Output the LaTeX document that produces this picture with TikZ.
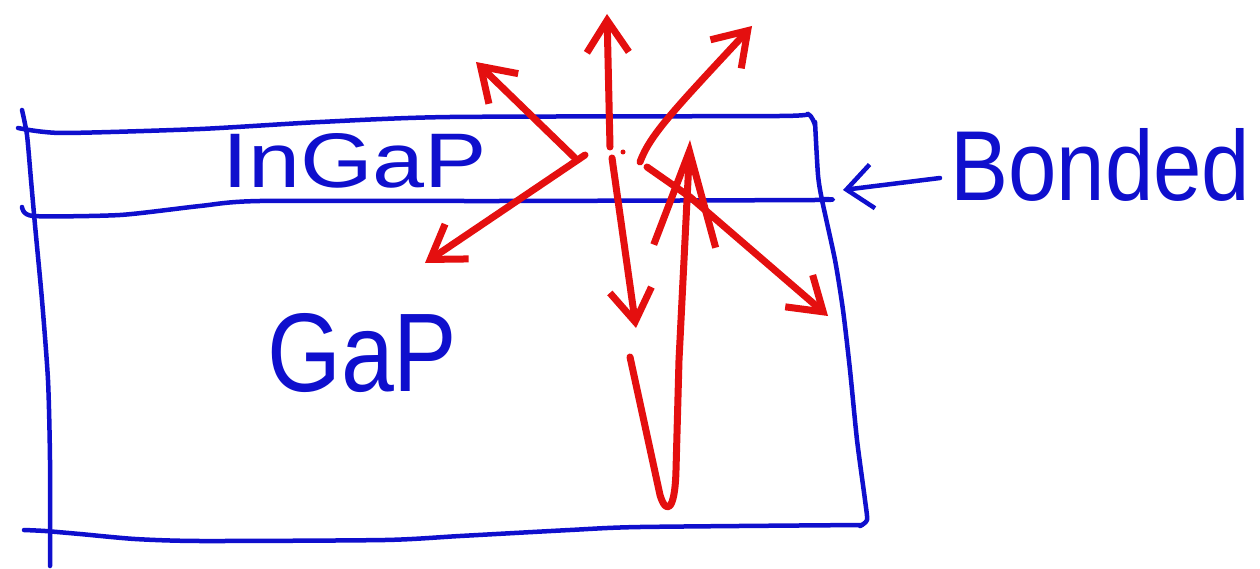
\documentclass[tikz,border=0pt]{standalone}
\usepackage{fontspec}
\setmainfont{Liberation Sans}
\usetikzlibrary{arrows.meta}
\definecolor{inkblue}{RGB}{15,15,205}
\definecolor{inkred}{RGB}{228,15,15}
\begin{document}
\begin{tikzpicture}[x=1pt,y=-1pt,
  blueline/.style={draw=inkblue,line width=4.5pt,line join=round,line cap=round},
  redray/.style={draw=inkred,line width=7pt,line cap=round,line join=round,
    -{Straight Barb[length=32pt,width=42pt,line width=7pt]}},
  handtext/.style={inner sep=0pt,text=inkblue,anchor=south west}]
\useasboundingbox (0,0) rectangle (1260,569);
\fill[white] (0,0) rectangle (1260,569);
% layers outline
\draw[blueline] plot[smooth,tension=0.4] coordinates {(22,110) (27,135) (31,180) (35,225) (42,300) (48,380) (50,460) (50,566)};
\draw[blueline] plot[smooth,tension=0.4] coordinates {(18,128) (62,133) (200,129) (320,122) (450,117) (780,116) (808,114) (815,125)};
\draw[blueline] plot[smooth,tension=0.4] coordinates {(815,122) (818,175) (822,200) (835,260) (843,310) (850,370) (857,440) (865,500) (867,520) (860,526)};
\draw[blueline] plot[smooth,tension=0.4] coordinates {(22,207) (33,216) (120,215) (200,206) (260,201) (500,201) (815,200) (822,199)};
\draw[blueline] plot[smooth,tension=0.4] coordinates {(24,530) (45,531) (80,534) (135,539) (200,541) (385,540) (460,536) (570,530) (640,527) (862,525)};
% labels
\node[handtext] (ingap) at (222,188) {\resizebox{265pt}{54pt}{InGaP}};
\node[handtext] (gap) at (267,393) {\resizebox{190pt}{78pt}{GaP}};
\node[handtext] (bonded) at (950,202) {\resizebox{300pt}{72pt}{Bonded}};
\coordinate (bondtail) at (940,178);
\coordinate (bondtip) at (843,190);
\draw[blueline,-{Straight Barb[length=26pt,width=44pt,line width=4.5pt]}] (bondtail) -- (bondtip);
% rays
\coordinate (sUp) at (610,147);   \coordinate (tUp) at (607,14);
\coordinate (sUL) at (575,158);   \coordinate (tUL) at (476,62);
\coordinate (sDL) at (585,155);   \coordinate (tDL) at (425,263);
\coordinate (sUR) at (640,162);   \coordinate (tUR) at (752,26);
\coordinate (sDn) at (612,158);   \coordinate (tDn) at (636,328);
\coordinate (sDR) at (647,167);   \coordinate (tDR) at (828,316);
\coordinate (sLp) at (630,357);   \coordinate (tLp) at (690,140);
\draw[redray] (sUp) -- (tUp);
\draw[redray] (sUL) -- (tUL);
\draw[redray] (sDL) -- (tDL);
\draw[redray] (sUR) .. controls (650,135) and (672,112) .. (tUR);
\draw[redray] (sDn) -- (tDn);
\draw[redray] (sDR) -- (690,197) -- (tDR);
\draw[redray,-{Straight Barb[length=95pt,width=62pt,line width=7pt]}]
  (sLp) -- (660,495) .. controls (666,515) and (675,512) .. (676,470) -- (679,360) -- (tLp);
\fill[inkred] (623,152) circle (2.5pt);
\end{tikzpicture}
\end{document}
